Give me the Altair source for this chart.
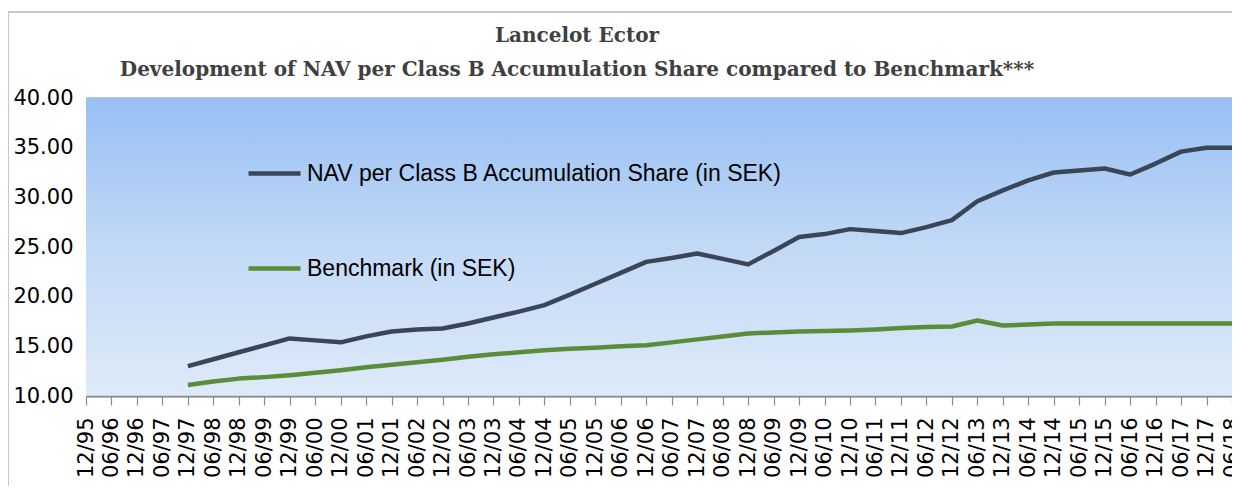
import altair as alt
import pandas as pd

categories = ["12/95", "06/96", "12/96", "06/97", "12/97", "06/98", "12/98", "06/99", "12/99",
              "06/00", "12/00", "06/01", "12/01", "06/02", "12/02", "06/03", "12/03", "06/04",
              "12/04", "06/05", "12/05", "06/06", "12/06", "06/07", "12/07", "06/08", "12/08",
              "06/09", "12/09", "06/10", "12/10", "06/11", "12/11", "06/12", "12/12", "06/13",
              "12/13", "06/14", "12/14", "06/15", "12/15", "06/16", "12/16", "06/17", "12/17",
              "06/18"]

# series start at 12/97
series_start = "12/97"
nav_values = [13.0, 13.7, 14.4, 15.1, 15.8, 15.6, 15.4, 16.0, 16.5, 16.7, 16.8, 17.3, 17.9,
              18.5, 19.15, 20.2, 21.3, 22.4, 23.5, 23.9, 24.35, 23.8, 23.25, 24.6, 26.0, 26.3,
              26.8, 26.6, 26.4, 27.0, 27.7, 29.6, 30.7, 31.7, 32.5, 32.7, 32.9, 32.3, 33.4,
              34.6, 35.0, 35.0]
bench_values = [11.1, 11.45, 11.75, 11.9, 12.1, 12.35, 12.6, 12.9, 13.15, 13.4, 13.65, 13.95,
                14.2, 14.4, 14.6, 14.75, 14.85, 15.0, 15.1, 15.4, 15.7, 16.0, 16.3, 16.4, 16.5,
                16.55, 16.6, 16.7, 16.85, 16.95, 17.0, 17.6, 17.1, 17.2, 17.3, 17.3, 17.3, 17.3,
                17.3, 17.3, 17.3, 17.3]

nav_name = "NAV per Class B Accumulation Share (in SEK)"
bench_name = "Benchmark (in SEK)"
title_lines = ["Lancelot Ector",
               "Development of NAV per Class B Accumulation Share compared to Benchmark***"]

start = categories.index(series_start)
cats_used = categories[start:]
df = pd.concat([
    pd.DataFrame({"period": cats_used, "value": nav_values, "series": nav_name}),
    pd.DataFrame({"period": cats_used, "value": bench_values, "series": bench_name}),
])

W, H = 1146, 298
grid_col = "#8C8C8C"

xscale = alt.Scale(type="point", domain=categories, padding=0)
yscale = alt.Scale(domain=[10, 40], nice=False, zero=False)

gradient = alt.LinearGradient(
    gradient="linear", x1=0, y1=0, x2=0, y2=1,
    stops=[alt.GradientStop(color="#97C0F3", offset=0),
           alt.GradientStop(color="#C2D9F6", offset=0.5),
           alt.GradientStop(color="#DEEAF9", offset=1)])

bg = alt.Chart(pd.DataFrame({"a": [0]})).mark_rect(fill=gradient).encode(
    x=alt.X(datum=categories[0], scale=xscale),
    x2=alt.X2(datum=categories[-1]),
    y=alt.Y(datum=40, scale=yscale),
    y2=alt.Y2(datum=10),
)

lines = alt.Chart(df).mark_line(strokeWidth=4.5, strokeJoin="round").encode(
    x=alt.X("period:N", scale=xscale, sort=categories,
            axis=alt.Axis(title=None, labelAngle=-90, labelFont="DejaVu Sans",
                          labelFontSize=21, labelColor="#000000", labelPadding=12,
                          tickColor=grid_col, tickSize=9, tickWidth=1.2,
                          domainColor=grid_col, domainWidth=1.5, grid=False,
                          labelOverlap=False, labelAlign="right", labelBaseline="middle")),
    y=alt.Y("value:Q", scale=yscale,
            axis=alt.Axis(title=None, values=[10, 15, 20, 25, 30, 35, 40], format=".2f",
                          labelFont="DejaVu Sans", labelFontSize=21, labelColor="#000000",
                          ticks=False, offset=-13, labelPadding=26,
                          domainColor=grid_col, domainWidth=1.5,
                          grid=True, gridColor=grid_col, gridWidth=1.8)),
    color=alt.Color("series:N",
                    scale=alt.Scale(domain=[nav_name, bench_name], range=["#3A4558", "#5B8C3A"]),
                    legend=alt.Legend(title=None, orient="none", legendX=160, legendY=47,
                                      symbolType="stroke", symbolSize=2704, symbolStrokeWidth=4.5,
                                      labelFont="Liberation Sans", labelFontSize=23, labelLimit=0,
                                      labelColor="#000000", labelOffset=4, rowPadding=54)),
    order=alt.Order("idx:Q"),
).transform_calculate(idx="indexof(" + str(categories) + ", datum.period)")

frame_top = alt.Chart(pd.DataFrame({"a": [0]})).mark_rule(color="#C8C8C8", strokeWidth=2).encode(
    x=alt.value(-78), x2=alt.value(W + 20), y=alt.value(-86))
frame_left = alt.Chart(pd.DataFrame({"a": [0]})).mark_rule(color="#C8C8C8", strokeWidth=2).encode(
    x=alt.value(-78), y=alt.value(-86), y2=alt.value(H + 120))

chart = alt.layer(bg, lines, frame_top, frame_left).properties(
    width=W, height=H,
    title=alt.TitleParams(text=title_lines, font="DejaVu Serif", fontSize=20, fontWeight="bold",
                          color="#404040", anchor="middle", frame="group", dx=-82, dy=69,
                          offset=0, lineHeight=34),
    autosize=alt.AutoSizeParams(type="none"),
    padding={"left": 78, "top": 90, "right": 0, "bottom": 90},
).configure_view(stroke=None).configure(background="#FFFFFF")

chart.save("out.html", embed_options={"renderer": "svg", "actions": False})
